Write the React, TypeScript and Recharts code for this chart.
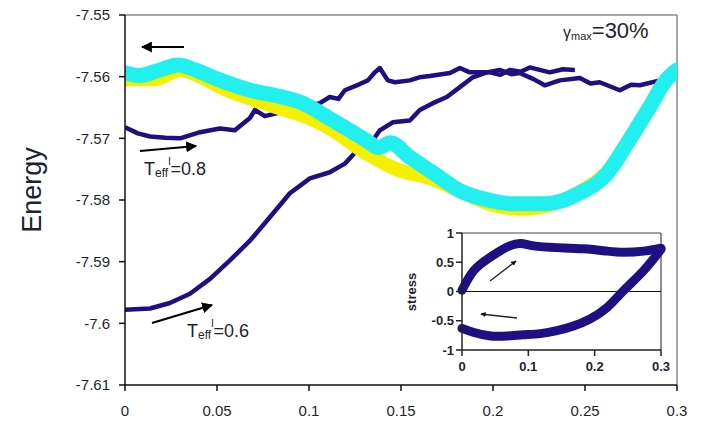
import React from "react";
import { LineChart, Line, XAxis, YAxis, ReferenceLine } from "recharts";

// ---- main chart data (strain vs energy) ----
const strainT08 = [0, 0.007, 0.0136, 0.022, 0.0299, 0.0408, 0.0516, 0.0597, 0.0679, 0.0706, 0.076, 0.0896, 0.1059, 0.1113, 0.116, 0.1195, 0.1276, 0.132, 0.1358, 0.1385, 0.1428, 0.1467, 0.1548, 0.16, 0.1657, 0.1766, 0.182, 0.1874, 0.1983, 0.204, 0.2092, 0.215, 0.22, 0.2308, 0.238, 0.2445];
const energyT08 = [-7.5682, -7.5692, -7.5697, -7.5699, -7.57, -7.569, -7.5684, -7.5687, -7.5667, -7.5654, -7.5664, -7.5654, -7.5643, -7.5633, -7.5636, -7.5622, -7.5612, -7.5606, -7.5593, -7.5586, -7.5606, -7.5609, -7.5606, -7.5601, -7.5599, -7.5594, -7.5586, -7.5593, -7.5593, -7.5597, -7.5589, -7.5592, -7.5585, -7.5593, -7.5588, -7.5589];

const strainT06 = [0, 0.0136, 0.0244, 0.0353, 0.0462, 0.057, 0.0679, 0.0787, 0.0896, 0.1005, 0.1113, 0.1195, 0.1276, 0.1347, 0.1385, 0.1455, 0.1548, 0.1602, 0.1673, 0.1749, 0.182, 0.189, 0.1966, 0.2036, 0.21, 0.2145, 0.222, 0.2281, 0.2363, 0.2472, 0.253, 0.258, 0.2689, 0.275, 0.2798, 0.2908, 0.3];
const energyT06 = [-7.5978, -7.5976, -7.5967, -7.5952, -7.5928, -7.5898, -7.5866, -7.5828, -7.5789, -7.5765, -7.5755, -7.5741, -7.5715, -7.5703, -7.5687, -7.5674, -7.5671, -7.5654, -7.5643, -7.5633, -7.5617, -7.5601, -7.5593, -7.5589, -7.5596, -7.5594, -7.5604, -7.5614, -7.5606, -7.5602, -7.5611, -7.5609, -7.5622, -7.5613, -7.5614, -7.5606, -7.5581];

const strainYellow = [0, 0.016, 0.03, 0.045, 0.052, 0.079, 0.1, 0.113, 0.131, 0.149, 0.164, 0.182, 0.2, 0.215, 0.233, 0.25, 0.262, 0.274, 0.285, 0.294, 0.3];
const energyYellow = [-7.5604, -7.5604, -7.5589, -7.5606, -7.5617, -7.5646, -7.5667, -7.5687, -7.5724, -7.5752, -7.5763, -7.5785, -7.5808, -7.5814, -7.5806, -7.5782, -7.5755, -7.5702, -7.565, -7.5606, -7.5591];

const strainCyan = [0, 0.008, 0.019, 0.029, 0.038, 0.052, 0.068, 0.084, 0.095, 0.113, 0.131, 0.138, 0.144, 0.155, 0.168, 0.182, 0.199, 0.21, 0.229, 0.247, 0.262, 0.274, 0.285, 0.294, 0.3];
const energyCyan = [-7.5594, -7.5598, -7.5589, -7.5581, -7.5589, -7.5606, -7.5622, -7.5632, -7.5641, -7.5671, -7.5703, -7.5715, -7.5707, -7.5731, -7.5757, -7.5785, -7.5801, -7.5806, -7.5806, -7.5789, -7.5757, -7.5703, -7.565, -7.5606, -7.5589];

const xTicks = [0, 0.05, 0.1, 0.15, 0.2, 0.25, 0.3];
const yTicks = [-7.61, -7.6, -7.59, -7.58, -7.57, -7.56, -7.55];

// ---- inset data (strain vs stress loop) ----
const loadStrain = [0, 0.018, 0.043, 0.068, 0.088, 0.108, 0.143, 0.183, 0.219, 0.244, 0.274, 0.3];
const loadStress = [0.02, 0.36, 0.59, 0.76, 0.82, 0.78, 0.75, 0.73, 0.69, 0.67, 0.69, 0.74];
const unloadStrain = [0.3, 0.274, 0.244, 0.219, 0.193, 0.168, 0.143, 0.118, 0.093, 0.068, 0.043, 0.018, 0];
const unloadStress = [0.72, 0.36, 0.02, -0.27, -0.47, -0.59, -0.67, -0.72, -0.74, -0.76, -0.76, -0.7, -0.63];
const insetXTicks = [0, 0.1, 0.2, 0.3];
const insetYTicks = [-1, -0.5, 0, 0.5, 1];

const zip = (xs: number[], ys: number[]) => xs.map((x, i) => ({ x, y: ys[i] }));

const dataT08 = zip(strainT08, energyT08);
const dataT06 = zip(strainT06, energyT06);
const dataYellow = zip(strainYellow, energyYellow);
const dataCyan = zip(strainCyan, energyCyan);
const dataLoad = zip(loadStrain, loadStress);
const dataUnload = zip(unloadStrain, unloadStress);

const FONT = "'Liberation Sans', Arial, sans-serif";
const NAVY = "#1e1082";
const TXT = "#1f1f2f";

const fmt = (v: number) => String(Number(v.toFixed(2)));

export default function App() {
  return (
    <div style={{ position: "absolute", left: 0, top: 0, width: 704, height: 423, background: "#fff", fontFamily: FONT }}>
      <LineChart width={704} height={423} margin={{ top: 15, right: 27, bottom: 8, left: 65 }}>
        <XAxis
          type="number"
          dataKey="x"
          domain={[0, 0.3]}
          ticks={xTicks}
          tickFormatter={fmt}
          allowDataOverflow
          height={30}
          stroke="#111"
          strokeWidth={1.5}
          tickSize={6}
          tickMargin={14}
          tick={{ fill: TXT, fontSize: 15, fontFamily: FONT }}
        />
        <YAxis
          type="number"
          dataKey="y"
          domain={[-7.61, -7.55]}
          ticks={yTicks}
          tickFormatter={fmt}
          allowDataOverflow
          width={60}
          stroke="#111"
          strokeWidth={1.5}
          tickSize={6}
          tickMargin={9}
          tick={{ fill: TXT, fontSize: 15, fontFamily: FONT }}
        />
        <ReferenceLine y={-7.55} stroke="#8a8a8a" strokeWidth={1.5} />
        <ReferenceLine x={0.3} stroke="#8a8a8a" strokeWidth={1.5} />
        <Line data={dataT08} dataKey="y" type="linear" stroke={NAVY} strokeWidth={4.5} strokeLinejoin="round" dot={false} isAnimationActive={false} />
        <Line data={dataT06} dataKey="y" type="linear" stroke={NAVY} strokeWidth={4.5} strokeLinejoin="round" dot={false} isAnimationActive={false} />
        <Line data={dataYellow} dataKey="y" type="monotone" stroke="#f4f000" strokeWidth={14} strokeLinecap="round" dot={false} isAnimationActive={false} />
        <Line data={dataCyan} dataKey="y" type="monotone" stroke="#22f0f0" strokeWidth={15} strokeLinecap="round" dot={false} isAnimationActive={false} />
      </LineChart>

      <div style={{ position: "absolute", left: 390, top: 225, width: 290, height: 160 }}>
        <LineChart width={290} height={160} margin={{ top: 8, right: 19, bottom: 10, left: 32 }}>
          <XAxis
            type="number"
            dataKey="x"
            domain={[0, 0.3]}
            ticks={insetXTicks}
            tickFormatter={fmt}
            height={25}
            stroke="#222"
            strokeWidth={1.5}
            tickSize={6}
            tickMargin={6}
            tick={{ fill: TXT, fontSize: 13, fontWeight: "bold", fontFamily: FONT }}
          />
          <YAxis
            type="number"
            dataKey="y"
            domain={[-1, 1]}
            ticks={insetYTicks}
            tickFormatter={fmt}
            width={40}
            stroke="#222"
            strokeWidth={1.5}
            tickSize={6}
            tickMargin={2}
            tick={{ fill: TXT, fontSize: 13, fontWeight: "bold", fontFamily: FONT }}
          />
          <ReferenceLine y={1} stroke="#444" strokeWidth={1.2} />
          <ReferenceLine x={0.3} stroke="#444" strokeWidth={1.2} />
          <ReferenceLine y={0} stroke="#111" strokeWidth={1.2} />
          <Line data={dataLoad} dataKey="y" type="natural" stroke={NAVY} strokeWidth={9} strokeLinejoin="round" strokeLinecap="round" dot={false} isAnimationActive={false} />
          <Line data={dataUnload} dataKey="y" type="natural" stroke={NAVY} strokeWidth={9} strokeLinejoin="round" strokeLinecap="round" dot={false} isAnimationActive={false} />
        </LineChart>
      </div>

      <svg width={704} height={423} style={{ position: "absolute", left: 0, top: 0, pointerEvents: "none" }}>
        <defs>
          <marker id="ah" viewBox="0 0 10 10" refX="9" refY="5" markerWidth="5" markerHeight="5" orient="auto">
            <path d="M0,0 L10,5 L0,10 z" fill="#000" />
          </marker>
          <marker id="ahs" viewBox="0 0 10 10" refX="9" refY="5" markerWidth="4" markerHeight="4" orient="auto">
            <path d="M0,0 L10,5 L0,10 z" fill="#111" />
          </marker>
        </defs>
        <text x={32} y={190} transform="rotate(-90 32 190)" textAnchor="middle" dominantBaseline="central" fontSize={27} fill={TXT} fontFamily={FONT}>Energy</text>
        <text x={411} y={292} transform="rotate(-90 411 292)" textAnchor="middle" dominantBaseline="central" fontSize={13} fontWeight="bold" fill={TXT} fontFamily={FONT}>stress</text>

        <line x1={184} y1={47} x2={142} y2={47} stroke="#000" strokeWidth={2.2} markerEnd="url(#ah)" />
        <line x1={140} y1={151} x2={196} y2={146} stroke="#000" strokeWidth={2.2} markerEnd="url(#ah)" />
        <line x1={152} y1={323} x2={212} y2={305} stroke="#000" strokeWidth={2.2} markerEnd="url(#ah)" />
        <line x1={490} y1={281} x2={516} y2={261} stroke="#222" strokeWidth={1.3} markerEnd="url(#ahs)" />
        <line x1={517} y1={318} x2={481} y2={314} stroke="#222" strokeWidth={1.3} markerEnd="url(#ahs)" />

        <text x={563} y={38} fontFamily={FONT} fill={TXT}>
          <tspan fontSize={16}>γ</tspan>
          <tspan fontSize={11} dy={2}>max</tspan>
          <tspan fontSize={22} dy={-2}>=30%</tspan>
        </text>

        <text x={144} y={175} fontFamily={FONT} fill={TXT}>
          <tspan fontSize={18}>T</tspan>
          <tspan fontSize={12} dy={2}>eff</tspan>
          <tspan fontSize={11} dy={-12}>l</tspan>
          <tspan fontSize={18} dy={10}>=0.8</tspan>
        </text>
        <text x={187} y={337} fontFamily={FONT} fill={TXT}>
          <tspan fontSize={18}>T</tspan>
          <tspan fontSize={12} dy={2}>eff</tspan>
          <tspan fontSize={11} dy={-12}>l</tspan>
          <tspan fontSize={18} dy={10}>=0.6</tspan>
        </text>
      </svg>
    </div>
  );
}
